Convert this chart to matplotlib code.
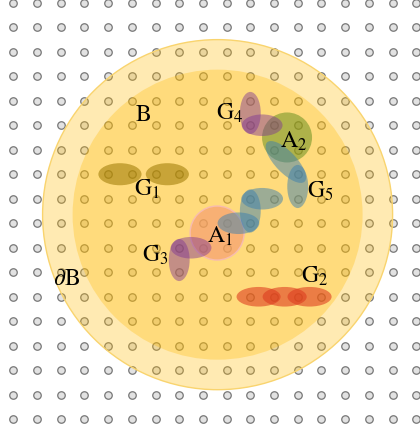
import matplotlib
matplotlib.use("Agg")
import matplotlib.pyplot as plt
from matplotlib.patches import Ellipse

plt.rcParams['mathtext.fontset'] = 'stix'
plt.rcParams['font.family'] = ['STIXGeneral', 'DejaVu Serif']

# Gitter der Punkte (Spalten x Zeilen)
n_spalten = 18
n_zeilen = 18

# Grosse Kreise (Bereich B und Rand dB), Mittelpunkt in Gitterkoordinaten
b_mitte = (8.62, 8.65)

# Mengen A1, A2 (Kreise)
a_namen = ["A1", "A2"]
a_x = [8.6, 11.55]
a_y = [9.4, 5.5]

# Gruppen G1..G5: Ellipsen (Mittelpunkt, Ausrichtung in Grad)
g1_x, g1_y, g1_winkel = [4.5, 6.5], [7, 7], [0, 0]
g2_x, g2_y, g2_winkel = [10.35, 11.45, 12.5], [12, 12, 12], [0, 0, 0]
g3_x, g3_y, g3_winkel = [7.5, 7.0], [10, 10.5], [0, 90]
g4_x, g4_y, g4_winkel = [10.0, 10.5], [4.5, 5], [90, 0]
g5_x = [11.5, 12.0, 10.5, 10.0, 9.5]
g5_y = [6.5, 7.5, 8.0, 8.5, 9.0]
g5_winkel = [45, 90, 0, 90, 0]

# Beschriftungen
texte = ["B", r"G$_1$", r"G$_4$", r"A$_2$", r"G$_5$", r"A$_1$", r"G$_3$", r"$\partial$B", r"G$_2$"]
text_x = [5.51, 5.64, 9.14, 11.84, 12.94, 8.74, 6.0, 2.24, 12.73]
text_y = [4.58, 7.6, 4.5, 5.65, 7.69, 9.52, 10.3, 11.28, 11.15]

fig = plt.figure(figsize=(4.2, 4.33), dpi=100)
ax = fig.add_axes([0, 0, 1, 1])
ax.set_xlim(-0.561, 17.16)
ax.set_ylim(17.56, -0.11)
ax.axis('off')

# Punktgitter
for zeile in range(n_zeilen):
    ax.plot(list(range(n_spalten)), [zeile] * n_spalten, linestyle='none', marker='o',
            markersize=5.4, markerfacecolor='#e2e2e2', markeredgecolor='#777777',
            markeredgewidth=0.9, zorder=1)

# Bereich B mit Rand
sx, sy = 1 / 23.7, 1 / 24.5  # Pixel -> Gitter
ax.add_patch(Ellipse(b_mitte, 2 * 175 * sx, 2 * 175 * sy, facecolor='#ffba00', alpha=0.3,
                     edgecolor='none', zorder=2))
ax.add_patch(Ellipse(b_mitte, 2 * 175 * sx, 2 * 175 * sy, facecolor='none',
                     edgecolor='#f9d46e', linewidth=1.0, zorder=2))
ax.add_patch(Ellipse(b_mitte, 2 * 145 * sx, 2 * 145 * sy, facecolor='#ffba00', alpha=0.3,
                     edgecolor='none', zorder=2))

# A1 und A2
a_farben = ['#f59a70', '#5e8a1a']
a_alpha = [0.65, 0.5]
a_radius = [27, 25]
for x, y, farbe, al, r in zip(a_x, a_y, a_farben, a_alpha, a_radius):
    ax.add_patch(Ellipse((x, y), 2 * r * sx, 2 * r * sy, facecolor=farbe, alpha=al,
                         edgecolor='none', zorder=3))
ax.add_patch(Ellipse((a_x[0], a_y[0]), 2 * 27 * sx, 2 * 27 * sy, facecolor='none',
                     edgecolor='#f7bcb0', linewidth=1.0, zorder=3))

# Gruppen
gruppen = [
    (g1_x, g1_y, g1_winkel, '#9b7800', 0.55, 1.82, 0.9),
    (g4_x, g4_y, g4_winkel, '#7b3294', 0.45, 1.72, 0.88),
    (g3_x, g3_y, g3_winkel, '#7b3294', 0.45, 1.72, 0.88),
    (g5_x, g5_y, g5_winkel, '#3b7fae', 0.5, 1.76, 0.88),
    (g2_x, g2_y, g2_winkel, '#dd3a1e', 0.58, 1.86, 0.8),
]
for xs, ys, winkel, farbe, al, laenge, dicke in gruppen:
    for x, y, w in zip(xs, ys, winkel):
        l = laenge * 1.28 if w == 45 else laenge
        ax.add_patch(Ellipse((x, y), l, dicke, angle=w, facecolor=farbe, alpha=al,
                             edgecolor='none', zorder=4))

for t, x, y in zip(texte, text_x, text_y):
    ax.text(x, y, t, fontsize=17, ha='center', va='center', color='black', zorder=6)

fig.savefig('out.png', dpi=100)
